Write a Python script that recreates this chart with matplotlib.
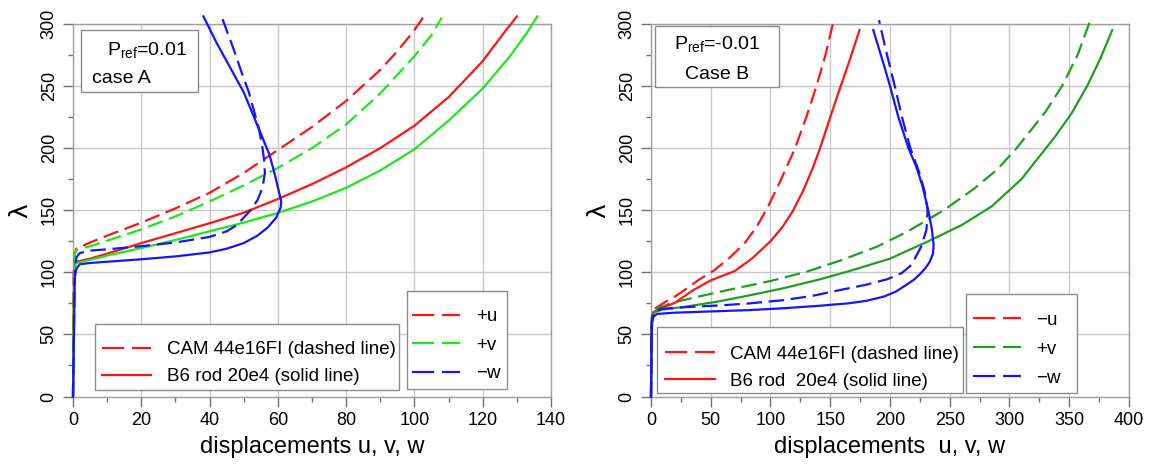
import matplotlib
matplotlib.use("Agg")
import matplotlib.pyplot as plt
from matplotlib.lines import Line2D
from matplotlib.patches import Rectangle
from matplotlib.ticker import MultipleLocator

plt.rcParams['font.family'] = ['Liberation Sans', 'DejaVu Sans']
plt.rcParams['mathtext.default'] = 'regular'

# ---- case A (P_ref = 0.01): (displacement, lambda) pairs read per curve ----
a_u_cam_x = [0, 0.2, 0.5, 1, 5, 10, 20, 30, 40, 50, 60, 70, 80, 90, 95, 100, 102.5]
a_u_cam_y = [0, 100, 115, 119, 124, 129.5, 140, 151.5, 164, 180, 198.5, 217, 238, 263, 278, 295, 305]
a_v_cam_x = [0, 0.3, 0.5, 1, 5, 10, 20, 30, 40, 50, 60, 70, 80, 90, 100, 105, 108]
a_v_cam_y = [0, 100, 114, 118, 121, 125.5, 134.5, 145, 157, 170, 184, 200, 219, 244, 274, 291, 305]
a_w_cam_x = [0, 0.3, 0.6, 1, 2, 5, 10, 20, 30, 40, 45, 48, 50, 52, 54, 55.5, 56.2, 56, 55.5,
             54.5, 53, 51.5, 49.5, 47, 43.5]
a_w_cam_y = [0, 60, 105, 112, 115.5, 117.5, 118.5, 121, 124, 128.5, 133, 138, 144, 150, 158, 168,
             180, 190, 200, 215, 230, 245, 260, 280, 306]
a_u_rod_x = [0, 0.3, 0.5, 1, 5, 10, 20, 30, 40, 50, 60, 70, 80, 90, 100, 110, 120, 126, 130]
a_u_rod_y = [0, 95, 105, 108.5, 111, 115, 123.5, 131.5, 139.5, 148, 159, 171, 184.5, 200, 218,
             241, 270, 292, 306]
a_v_rod_x = [0, 0.3, 0.5, 1, 5, 10, 20, 30, 40, 50, 60, 70, 80, 90, 100, 110, 120, 128, 133, 136]
a_v_rod_y = [0, 95, 104, 107.5, 110, 113.5, 119.5, 126, 133, 140, 147.8, 157, 168, 182, 199, 222,
             248, 274, 293, 306]
a_w_rod_x = [0, 0.3, 0.5, 1, 2, 5, 10, 20, 30, 40, 45, 50, 54, 57, 59.5, 60.8, 61, 60.3, 59,
             57.5, 56, 53, 50, 46, 42, 38.2]
a_w_rod_y = [0, 50, 95, 103, 106.5, 107.5, 108.5, 110.5, 112.8, 116, 119, 123.5, 129.5, 136, 144,
             152, 157, 165, 180, 195, 205, 225, 245, 265, 285, 306]

# ---- case B (P_ref = -0.01) ----
b_u_cam_x = [0, 0.5, 1, 2, 10, 20, 30, 40, 52, 65, 78, 88, 97, 108, 120.6, 130, 138.5, 146, 153]
b_u_cam_y = [0, 55, 66, 70, 75, 80.5, 87, 94, 101, 111, 123, 136, 151, 173, 200, 225, 250, 275, 303]
b_v_cam_x = [0, 0.5, 1, 5, 20, 40, 64, 100, 130, 160, 190, 215, 245, 270, 290, 306, 330, 344,
             357, 367.7]
b_v_cam_y = [0, 60, 68, 71, 76, 80.5, 85.7, 93, 100.4, 110, 121, 133, 150, 167, 183, 200, 229, 250,
             275, 303]
b_w_cam_x = [0, 0.5, 1, 3, 8, 30, 60, 82.8, 110, 135, 155.4, 180, 198, 210, 218, 226, 230.5,
             231.5, 229, 224.6, 217, 210, 204, 197.5, 190.8]
b_w_cam_y = [0, 55, 63, 68, 70.5, 72, 73.5, 75, 77.5, 81, 85.2, 90, 94.5, 99.5, 106, 120.5, 134,
             150, 165, 180, 200, 225, 250, 275, 303]
b_u_rod_x = [0, 0.5, 1, 2, 10, 20, 35.4, 50, 70, 85, 100, 110, 118.5, 127, 135, 141.5, 149, 157,
             166, 174.5]
b_u_rod_y = [0, 55, 64, 68, 71.5, 75.5, 85.7, 93.5, 101, 111.5, 125, 136.5, 149, 165, 183, 200, 222,
             245, 270, 295]
b_v_rod_x = [0, 0.5, 1, 3, 10, 30, 55, 80, 110, 140, 166, 200, 232, 260, 285, 310, 338, 352,
             365, 376, 386]
b_v_rod_y = [0, 55, 64, 68, 70, 72.5, 76.3, 81, 87, 94, 101, 111, 125, 138, 153, 175, 209, 228,
             250, 272, 295]
b_w_rod_x = [0, 0.5, 1, 2, 5, 20, 50, 80, 110, 140, 165, 180, 195, 205, 213, 220, 225, 229.3, 233,
             236, 236.5, 235, 232, 227, 222, 215.4, 207, 200, 193, 186]
b_w_rod_y = [0, 50, 60, 64, 66.5, 67.5, 68.5, 69.5, 71, 73, 75, 77, 80.5, 84.5, 89.5, 94, 98.5,
             103, 108, 115, 122, 135, 150, 170, 185, 200, 225, 250, 273, 295]

RED = '#ff1414'
LIME = '#1ee61e'
DGREEN = '#1ea01e'
BLUE = '#1414ff'
GRAYLINE = '#c8c8c8'
EDGE = '#8c8c8c'
DASH = (7, 3)
LW = 1.6


def style_axes(ax, xmax, xmajor, xminor, xlabel):
    ax.set_xlim(0, xmax)
    ax.set_ylim(0, 300)
    ax.xaxis.set_major_locator(MultipleLocator(xmajor))
    ax.xaxis.set_minor_locator(MultipleLocator(xminor))
    ax.yaxis.set_major_locator(MultipleLocator(50))
    ax.yaxis.set_minor_locator(MultipleLocator(25))
    ax.set_axisbelow(True)
    ax.grid(True, which='major', color=GRAYLINE, lw=1.0)
    for sp in ax.spines.values():
        sp.set_color('#a0a0a0')
        sp.set_linewidth(1.0)
    ax.tick_params(which='major', direction='out', length=7, width=1, color='#707070',
                   labelsize=13, pad=4)
    ax.tick_params(which='minor', direction='out', length=3.5, width=1, color='#707070')
    ax.tick_params(axis='y', labelrotation=90)
    for lab in ax.get_yticklabels():
        lab.set_va('center')
    ax.set_xlabel(xlabel, fontsize=17, labelpad=5)
    ax.set_ylabel('λ', fontsize=18, labelpad=6, family='DejaVu Sans')


def curve(ax, x, y, color, dashed):
    ln, = ax.plot(x, y, color=color, lw=LW, clip_on=False, zorder=3)
    if dashed:
        ln.set_dashes(DASH)


def boxed(ax, x, y, w, h):
    ax.add_patch(Rectangle((x, y), w, h, transform=ax.transAxes, facecolor='white',
                           edgecolor=EDGE, lw=1.0, clip_on=False, zorder=4))


def legends(ax, style_pos, comp_pos, comp_labels, comp_colors, rod_label, comp_spacing):
    style_handles = [Line2D([], [], color=RED, lw=LW, dashes=(10, 3.5)),
                     Line2D([], [], color=RED, lw=LW)]
    leg1 = ax.legend(style_handles, ['CAM 44e16FI (dashed line)', rod_label],
                     loc='upper left', bbox_to_anchor=style_pos, frameon=False,
                     fontsize=13.5, borderpad=0, borderaxespad=0, handlelength=2.65,
                     handletextpad=0.82, labelspacing=0.54)
    leg1.set_zorder(5)
    ax.add_artist(leg1)
    comp_handles = [Line2D([], [], color=c, lw=LW, dashes=(10, 3.5)) for c in comp_colors]
    leg2 = ax.legend(comp_handles, comp_labels, loc='upper left', bbox_to_anchor=comp_pos,
                     frameon=False, fontsize=13.5, borderpad=0, borderaxespad=0,
                     handlelength=2.55, handletextpad=0.85, labelspacing=comp_spacing)
    leg2.set_zorder(5)


fig = plt.figure(figsize=(11.52, 4.67), dpi=100)
axA = fig.add_axes([0.06337, 0.1509, 0.41493, 0.7980])
axB = fig.add_axes([0.56510, 0.1509, 0.41493, 0.7980])

# case A
curve(axA, a_u_cam_x, a_u_cam_y, RED, True)
curve(axA, a_v_cam_x, a_v_cam_y, LIME, True)
curve(axA, a_u_rod_x, a_u_rod_y, RED, False)
curve(axA, a_v_rod_x, a_v_rod_y, LIME, False)
curve(axA, a_w_cam_x, a_w_cam_y, BLUE, True)
curve(axA, a_w_rod_x, a_w_rod_y, BLUE, False)
style_axes(axA, 140, 20, 10, 'displacements u, v, w')

boxed(axA, 0.016, 0.817, 0.246, 0.167)
axA.text(0.0705, 0.917, 'P$_{ref}$=0.01', transform=axA.transAxes, fontsize=14,
         ha='left', va='baseline', zorder=6)
axA.text(0.039, 0.841, 'case A', transform=axA.transAxes, fontsize=14,
         ha='left', va='baseline', zorder=6)

boxed(axA, 0.046, 0.0175, 0.636, 0.1775)
boxed(axA, 0.698, 0.019, 0.210, 0.264)
legends(axA, (0.060, 0.149), (0.709, 0.237), ['+u', '+v', '\u2212w'], [RED, LIME, BLUE],
        'B6 rod 20e4 (solid line)', 0.6)

# case B
curve(axB, b_u_cam_x, b_u_cam_y, RED, True)
curve(axB, b_v_cam_x, b_v_cam_y, DGREEN, True)
curve(axB, b_u_rod_x, b_u_rod_y, RED, False)
curve(axB, b_v_rod_x, b_v_rod_y, DGREEN, False)
curve(axB, b_w_cam_x, b_w_cam_y, BLUE, True)
curve(axB, b_w_rod_x, b_w_rod_y, BLUE, False)
style_axes(axB, 400, 50, 25, 'displacements  u, v, w')

boxed(axB, 0.0084, 0.8314, 0.26, 0.163)
axB.text(0.138, 0.932, 'P$_{ref}$=-0.01', transform=axB.transAxes, fontsize=14,
         ha='center', va='baseline', zorder=6)
axB.text(0.138, 0.852, 'Case B', transform=axB.transAxes, fontsize=14,
         ha='center', va='baseline', zorder=6)

boxed(axB, 0.013, 0.0099, 0.639, 0.176)
boxed(axB, 0.660, 0.0099, 0.232, 0.265)
legends(axB, (0.0293, 0.137), (0.673, 0.228), ['\u2212u', '+v', '\u2212w'], [RED, DGREEN, BLUE],
        'B6 rod  20e4 (solid line)', 0.64)

fig.savefig('out.png', dpi=100)
